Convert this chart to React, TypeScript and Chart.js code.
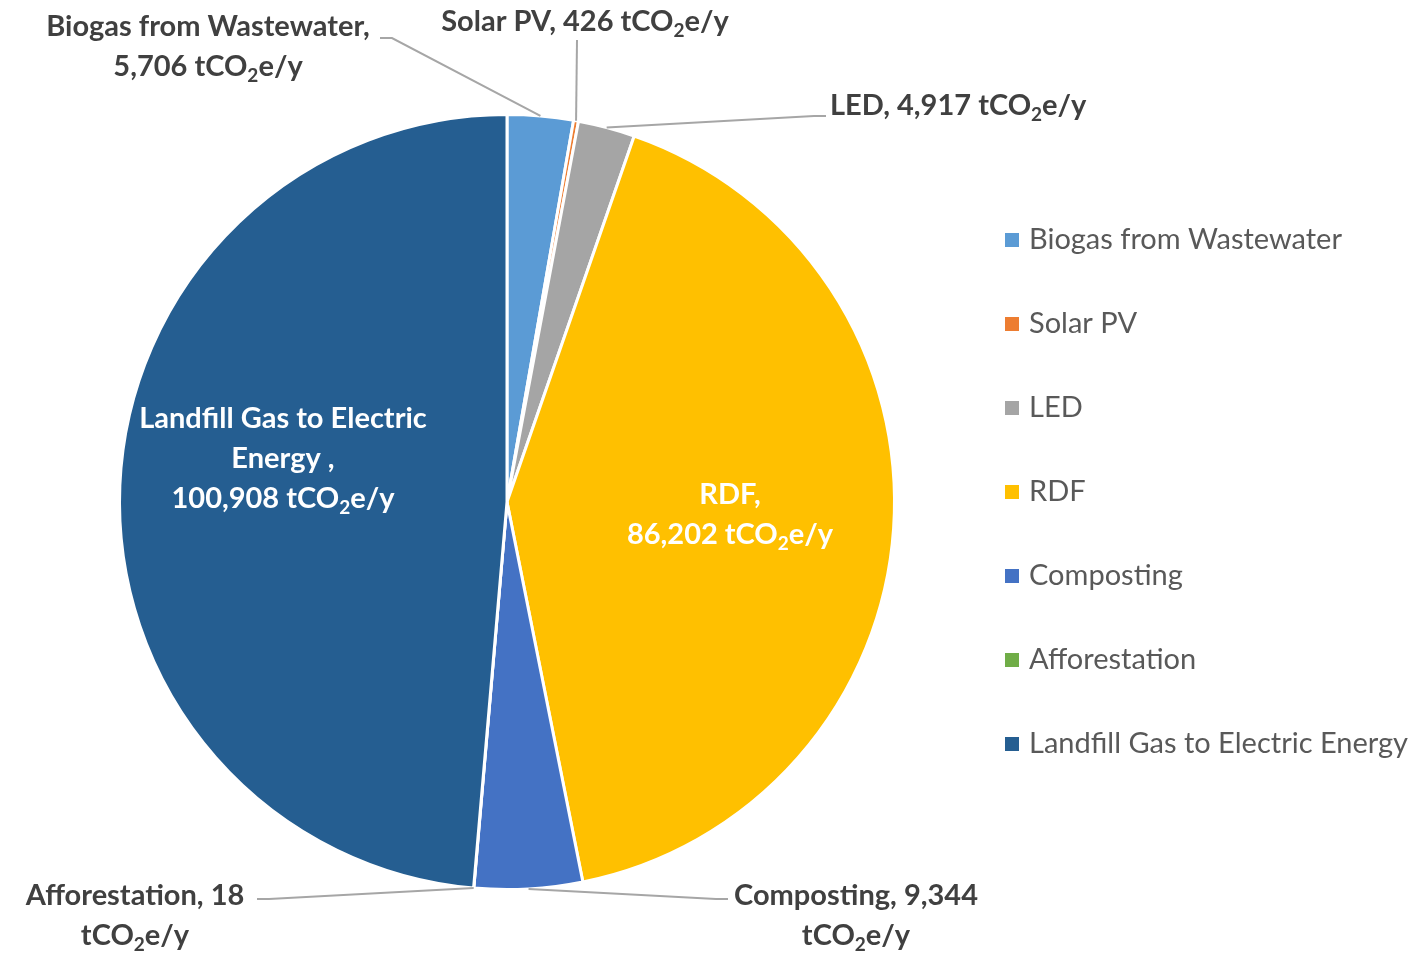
import React, { useEffect, useRef } from "react";
import { Chart, registerables } from "chart.js";

Chart.register(...registerables);

const categories = [
  "Biogas from Wastewater",
  "Solar PV",
  "LED",
  "RDF",
  "Composting",
  "Afforestation",
  "Landfill Gas to Electric Energy",
];
const values = [5706, 426, 4917, 86202, 9344, 18, 100908];
const colors = ["#5B9BD5", "#ED7D31", "#A5A5A5", "#FFC000", "#4472C4", "#70AD47", "#255E91"];
const unit = "tCO~2~e/y";

const fmt = (v: number) => v.toLocaleString("en-US");

const labelTexts: string[][] = [
  [`${categories[0]},`, `${fmt(values[0])} ${unit}`],
  [`${categories[1]}, ${fmt(values[1])} ${unit}`],
  [`${categories[2]}, ${fmt(values[2])} ${unit}`],
  [`${categories[3]},`, `${fmt(values[3])} ${unit}`],
  [`${categories[4]}, ${fmt(values[4])}`, unit],
  [`${categories[5]}, ${fmt(values[5])}`, unit],
  ["Landfill Gas to Electric", "Energy ,", `${fmt(values[6])} ${unit}`],
];

// label layout (text placement and leader line start/elbow)
type LabelLayout = {
  x: number;
  y: number;
  align: CanvasTextAlign;
  color: string;
  lead?: { sx: number; sy: number; ex?: number };
};
const labelLayout: LabelLayout[] = [
  { x: 208, y: 27, align: "center", color: "#404040", lead: { sx: 380, sy: 38, ex: 392 } },
  { x: 585, y: 22, align: "center", color: "#404040", lead: { sx: 577, sy: 40 } },
  { x: 830, y: 106, align: "left", color: "#404040", lead: { sx: 826, sy: 116, ex: 814 } },
  { x: 730, y: 495, align: "center", color: "#FFFFFF" },
  { x: 856, y: 896, align: "center", color: "#404040", lead: { sx: 728, sy: 899, ex: 716 } },
  { x: 135, y: 896, align: "center", color: "#404040", lead: { sx: 257, sy: 899, ex: 269 } },
  { x: 283, y: 419, align: "center", color: "#FFFFFF" },
];

const FONT = "Lato, 'Open Sans', sans-serif";
const LABEL_SIZE = 29;
const LINE_H = 40;
const LEGEND_SIZE = 29;

function drawRich(
  ctx: CanvasRenderingContext2D,
  text: string,
  x: number,
  y: number,
  align: CanvasTextAlign,
  size: number,
  weight: string,
  color: string
) {
  const parts = text.split("~");
  const nf = `${weight} ${size}px ${FONT}`;
  const sf = `${weight} ${Math.round(size * 0.66)}px ${FONT}`;
  const widths = parts.map((p, i) => {
    ctx.font = i % 2 ? sf : nf;
    return ctx.measureText(p).width;
  });
  const total = widths.reduce((a, b) => a + b, 0);
  let cx = align === "center" ? x - total / 2 : align === "right" ? x - total : x;
  ctx.fillStyle = color;
  ctx.textAlign = "left";
  ctx.textBaseline = "middle";
  parts.forEach((p, i) => {
    ctx.font = i % 2 ? sf : nf;
    ctx.fillText(p, cx, i % 2 ? y + size * 0.3 : y);
    cx += widths[i];
  });
}

const overlayPlugin = {
  id: "overlay",
  afterDraw(chart: any) {
    const ctx: CanvasRenderingContext2D = chart.ctx;
    const meta = chart.getDatasetMeta(0);
    ctx.save();
    // leader lines
    meta.data.forEach((arc: any, i: number) => {
      const L = labelLayout[i];
      if (!L.lead) return;
      const mid = (arc.startAngle + arc.endAngle) / 2;
      const px = arc.x + Math.cos(mid) * arc.outerRadius;
      const py = arc.y + Math.sin(mid) * arc.outerRadius;
      ctx.beginPath();
      ctx.strokeStyle = "#A6A6A6";
      ctx.lineWidth = 2;
      ctx.moveTo(L.lead.sx, L.lead.sy);
      if (L.lead.ex !== undefined) ctx.lineTo(L.lead.ex, L.lead.sy);
      ctx.lineTo(px, py);
      ctx.stroke();
    });
    // labels
    labelTexts.forEach((lines, i) => {
      const L = labelLayout[i];
      lines.forEach((t, j) => {
        drawRich(ctx, t, L.x, L.y + j * LINE_H, L.align, LABEL_SIZE, "bold", L.color);
      });
    });
    // legend
    categories.forEach((c, i) => {
      const y = 240 + i * 84;
      ctx.fillStyle = colors[i];
      ctx.fillRect(1005, y - 7, 14, 14);
      drawRich(ctx, c, 1029, y, "left", LEGEND_SIZE, "normal", "#595959");
    });
    ctx.restore();
  },
};

export default function App() {
  const ref = useRef<HTMLCanvasElement>(null);
  useEffect(() => {
    if (!ref.current) return;
    const chart = new Chart(ref.current, {
      type: "pie",
      data: {
        labels: categories,
        datasets: [
          {
            data: values,
            backgroundColor: colors,
            borderColor: "#FFFFFF",
            borderWidth: 3,
          },
        ],
      },
      options: {
        responsive: false,
        animation: false,
        layout: { padding: { left: 118, right: 527, top: 113, bottom: 62 } },
        plugins: { legend: { display: false }, tooltip: { enabled: false } },
      },
      plugins: [overlayPlugin],
    });
    return () => chart.destroy();
  }, []);
  return (
    <div style={{ position: "fixed", left: 0, top: 0, width: 1423, height: 953, background: "#fff" }}>
      <canvas ref={ref} width={1423} height={953} />
    </div>
  );
}
